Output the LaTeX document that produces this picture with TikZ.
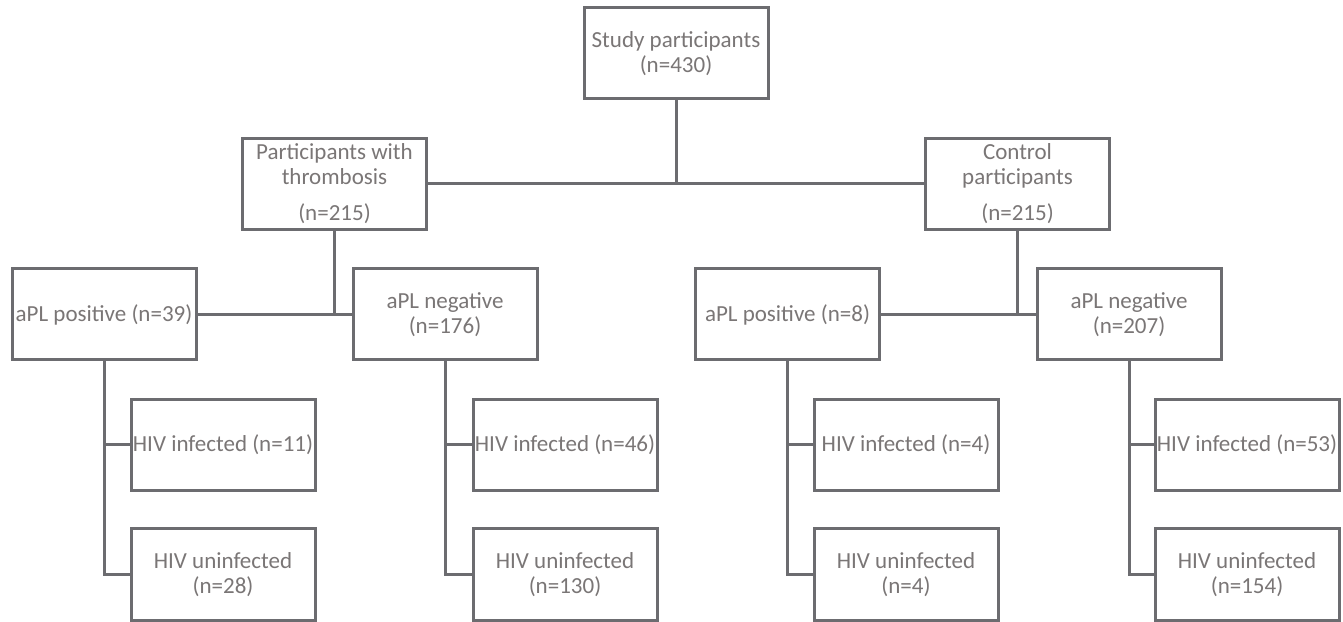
\documentclass[tikz,border=0pt]{standalone}
\usepackage{fontspec}
\setmainfont{Carlito}
\definecolor{linegray}{RGB}{108,108,112}
\definecolor{textgray}{RGB}{122,118,118}
\begin{document}
\begin{tikzpicture}[x=1pt,y=1pt,
  box/.style={draw=linegray, line width=3pt, fill=white, minimum width=184pt, minimum height=91pt,
    inner sep=0pt, align=center, text=textgray, font=\fontsize{23}{25}\selectfont},
  link/.style={draw=linegray, line width=3pt}]
\useasboundingbox (0,0) rectangle (1343,621);
% row 1
\node[box] (study) at (676,567.5) {Study participants\\(n=430)};
% row 2
\node[box] (thromb) at (334.5,437) {Participants with\\thrombosis\\[11pt](n=215)};
\node[box] (control) at (1017.5,437) {Control\\participants\\[11pt](n=215)};
% row 3
\node[box] (tpos) at (104,306.5) {aPL positive (n=39)};
\node[box] (tneg) at (445,306.5) {aPL negative\\(n=176)};
\node[box] (cpos) at (787.5,306.5) {aPL positive (n=8)};
\node[box] (cneg) at (1129,306.5) {aPL negative\\(n=207)};
% rows 4 and 5
\node[box] (tposin) at (223,176) {HIV infected (n=11)};
\node[box] (tposun) at (223,46.5) {HIV uninfected\\(n=28)};
\node[box] (tnegin) at (565,176) {HIV infected (n=46)};
\node[box] (tnegun) at (565,46.5) {HIV uninfected\\(n=130)};
\node[box] (cposin) at (906,176) {HIV infected (n=4)};
\node[box] (cposun) at (906,46.5) {HIV uninfected\\(n=4)};
\node[box] (cnegin) at (1247,176) {HIV infected (n=53)};
\node[box] (cnegun) at (1247,46.5) {HIV uninfected\\(n=154)};
% connectors
\begin{scope}[on background layer/.style={}]
\draw[link] (thromb.east) -- (control.west);
\draw[link] (study.south) -- (study.south |- thromb.east);
\draw[link] (tpos.east) -- (tneg.west);
\draw[link] (thromb.south) -- (thromb.south |- tpos.east);
\draw[link] (cpos.east) -- (cneg.west);
\draw[link] (control.south) -- (control.south |- cpos.east);
\draw[link] (tpos.south) |- (tposun.west);
\draw[link] (tpos.south |- tposin.west) -- (tposin.west);
\draw[link] (tneg.south) |- (tnegun.west);
\draw[link] (tneg.south |- tnegin.west) -- (tnegin.west);
\draw[link] (cpos.south) |- (cposun.west);
\draw[link] (cpos.south |- cposin.west) -- (cposin.west);
\draw[link] (cneg.south) |- (cnegun.west);
\draw[link] (cneg.south |- cnegin.west) -- (cnegin.west);
\end{scope}
\end{tikzpicture}
\end{document}
